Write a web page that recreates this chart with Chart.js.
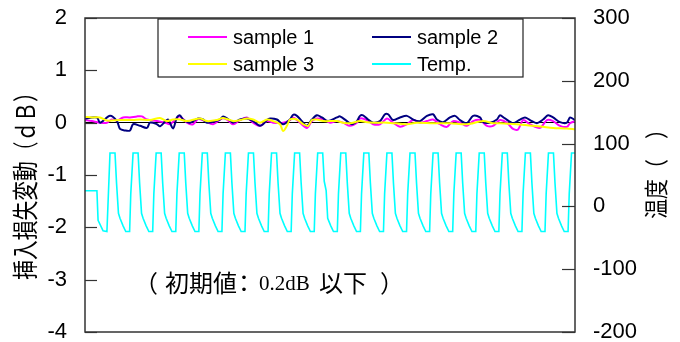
<!DOCTYPE html>
<html><head><meta charset="utf-8">
<script src="https://cdn.jsdelivr.net/npm/chart.js@4/dist/chart.umd.min.js"></script>
<style>html,body{margin:0;padding:0;background:#fff}#wrap{width:680px;height:342px}</style>
</head><body><div id="wrap"><canvas id="c" width="680" height="342"></canvas></div>
<script>
// time axis in minutes
const s1Time = [0,18,39,57,70,83,99,117,135,148,161,187,208,221,239,247,265,281,294,312,333,356,369,385,403,421,437,455,473,489,515,533,541,559,577,590,603,619,637,655,671,689,707,715,733,749,767,785,801,819,837,853,871,889,905,923,941,957,975,993,1009,1027,1045,1061,1079,1097,1113,1126,1139,1157,1183,1201,1217,1235,1253,1261,1274];
const s1Val  = [0.05,0.03,0,0,0.06,0.04,0.10,0.10,0.12,0.12,0.06,0.03,0,-0.03,0.09,0.12,0,-0.03,0.07,0.03,-0.03,0.08,0.06,-0.03,0.05,0.10,0,-0.06,0.03,0,0,0.05,0.10,0,-0.10,0.03,0.08,0.06,0,0.03,0,-0.06,0,0.08,0.05,-0.03,-0.03,0.08,0,-0.08,-0.03,0.05,0,0.03,0.06,-0.03,-0.08,0.03,0,-0.06,0.03,0.05,-0.06,-0.06,0.05,0,-0.12,-0.13,0.05,-0.03,-0.10,0.05,0.03,-0.06,-0.08,-0.01,0.03];

const s2Time = [0,31,39,65,83,91,104,117,125,143,161,169,187,195,208,216,229,239,247,255,273,294,307,317,351,359,372,385,403,421,437,455,463,473,481,499,515,533,541,551,564,577,590,603,616,632,655,663,681,694,707,715,723,736,749,767,780,788,801,819,837,853,871,889,905,915,931,949,962,975,993,1009,1027,1035,1053,1071,1079,1092,1113,1131,1144,1157,1175,1191,1204,1217,1235,1253,1261,1274];
const s2Val  = [0.08,0.10,0,0.13,0.03,-0.12,-0.15,-0.15,-0.03,-0.06,-0.10,0,-0.03,-0.07,0.02,0.06,-0.11,0.10,0.14,0.06,0,0.08,0.06,0,0.06,0.12,0.07,0,0.06,0.08,0.03,-0.06,-0.03,0.05,0.08,0.06,-0.03,0.06,0.15,0.13,0.03,-0.06,0.06,0.14,0.10,0.03,0.10,0.12,0.03,-0.03,0.03,0.13,0.14,0.06,0,0.03,0.16,0.16,0.05,0.10,0.13,0.06,0.03,0.13,0.16,0.06,0.01,0.10,0.13,0.05,-0.01,0.13,0.10,0.01,0,0.06,0.14,0.08,-0.01,0.06,0.10,0.05,-0.01,0.06,0.14,0.10,0.01,0,0.10,0.05];

const s3Time = [0,18,39,57,91,125,143,169,195,213,229,247,265,299,317,343,359,385,403,421,437,455,473,489,507,515,525,533,551,567,580,590,603,619,655,671,689,715,733,749,785,819,837,863,905,949,993,1035,1061,1079,1123,1165,1191,1217,1253,1274];
const s3Val  = [0.11,0.10,0.10,0.04,0.05,0.05,0.06,0.05,0.09,0.03,0.06,0.06,0.03,0.08,0.03,0.05,0.09,0.03,0.05,0.08,0.06,0,0.06,0.03,-0.03,-0.16,-0.06,0.06,0.06,-0.03,-0.06,0.05,0.06,0.03,0.03,0,-0.01,0.03,0.01,0,0,-0.02,-0.03,0,-0.01,-0.01,-0.03,0.03,-0.01,-0.01,-0.03,-0.06,-0.08,-0.10,-0.11,-0.13];

const tempTime = [0,31,34,47,57,
 65,78,82,87,91,99,106,116,119,
 125,138,142,147,151,159,166,176,179,
 185,198,202,207,211,219,226,236,239,
 245,258,262,267,271,279,286,296,299,
 305,318,322,327,331,339,346,356,359,
 365,378,382,387,391,399,406,416,419,
 425,438,442,447,451,459,466,476,479,
 485,498,502,507,511,519,526,536,539,
 545,558,562,567,571,579,586,596,599,
 605,618,622,627,631,639,646,656,659,
 665,678,682,687,691,699,706,716,719,
 725,738,742,747,751,759,766,776,779,
 785,798,802,807,811,819,826,836,839,
 845,858,862,867,871,879,886,896,899,
 905,918,922,927,931,939,946,956,959,
 965,978,982,987,991,999,1006,1016,1019,
 1025,1038,1042,1047,1051,1059,1066,1076,1079,
 1085,1098,1102,1107,1111,1119,1126,1136,1139,
 1145,1158,1162,1167,1171,1179,1186,1196,1199,
 1205,1218,1222,1227,1231,1239,1246,1256,1259,
 1265,1274];
const tempVal = [25,25,-22,-39,-40,
 85,85,37,-11,-19,-31,-40,-40,20,
 85,85,37,-11,-19,-31,-40,-40,20,
 85,85,37,-11,-19,-31,-40,-40,20,
 85,85,37,-11,-19,-31,-40,-40,20,
 85,85,37,-11,-19,-31,-40,-40,20,
 85,85,37,-11,-19,-31,-40,-40,20,
 85,85,37,-11,-19,-31,-40,-40,20,
 85,85,37,-11,-19,-31,-40,-40,20,
 85,85,37,-11,-19,-31,-40,-40,20,
 85,85,40,25,-19,-31,-40,-40,20,
 85,85,37,-11,-19,-31,-40,-40,20,
 85,85,37,-11,-19,-31,-40,-40,20,
 85,85,37,-11,-19,-31,-40,-40,20,
 85,85,37,-11,-19,-31,-40,-40,20,
 85,85,37,-11,-19,-31,-40,-40,20,
 85,85,37,-11,-19,-31,-40,-40,20,
 85,85,37,-11,-19,-31,-40,-40,20,
 85,85,37,-11,-19,-31,-40,-40,20,
 85,85,37,-11,-19,-31,-40,-40,20,
 85,85,37,-11,-19,-31,-40,-40,20,
 85,85];

const seriesLabels = ['sample 1','sample 2','sample 3','Temp.'];
const leftTitle = '挿入損失変動（ｄＢ）';
const rightTitle = '温度（　）';

const SANS = '"Liberation Sans", Arial, sans-serif';
const CJK = '"Noto Sans CJK JP", sans-serif';
const SERIF = '"Liberation Serif", "Times New Roman", serif';

const pts = (t, v) => t.map((x, i) => ({x: x, y: v[i]}));

// draw text so that its ink starts at 'left'
function inkAt(ctx, text, left, y) {
  const m = ctx.measureText(text);
  ctx.fillText(text, left + m.actualBoundingBoxLeft, y);
}
function vTitle(ctx, text, cx, cy, size, squeeze) {
  ctx.save();
  ctx.font = size + 'px ' + CJK;
  ctx.textAlign = 'center';
  ctx.textBaseline = 'middle';
  ctx.translate(cx, cy);
  ctx.rotate(-Math.PI / 2);
  ctx.scale(squeeze, 1);
  ctx.fillText(text, 0, 0);
  ctx.restore();
}

const decor = {
  id: 'decor',
  afterDraw(chart) {
    const {ctx, chartArea: a, scales} = chart;
    ctx.save();
    // frame
    ctx.strokeStyle = '#333';
    ctx.lineWidth = 1.5;
    ctx.strokeRect(a.left, a.top, a.right - a.left, a.bottom - a.top);
    // inward tick marks
    ctx.lineWidth = 1.2;
    scales.y.ticks.forEach(t => {
      const p = Math.round(scales.y.getPixelForValue(t.value)) + 0.5;
      ctx.beginPath(); ctx.moveTo(a.left, p); ctx.lineTo(a.left + 12, p); ctx.stroke();
    });
    scales.y1.ticks.forEach(t => {
      const p = Math.round(scales.y1.getPixelForValue(t.value)) + 0.5;
      ctx.beginPath(); ctx.moveTo(a.right, p); ctx.lineTo(a.right - 13, p); ctx.stroke();
    });
    // legend box
    const lx = a.left + 73, ly = a.top + 1, lw = 365, lh = 58;
    ctx.fillStyle = '#fff';
    ctx.fillRect(lx, ly, lw, lh);
    ctx.strokeStyle = '#222';
    ctx.lineWidth = 1.2;
    ctx.strokeRect(lx, ly, lw, lh);
    ctx.font = '20px ' + SANS;
    ctx.textBaseline = 'middle';
    ctx.textAlign = 'left';
    chart.data.datasets.forEach((ds, i) => {
      const col = i % 2, row = Math.floor(i / 2);
      const x0 = lx + 30 + col * 184;
      const y0 = ly + 18 + row * 27;
      ctx.strokeStyle = ds.borderColor;
      ctx.lineWidth = 2;
      ctx.beginPath(); ctx.moveTo(x0, y0); ctx.lineTo(x0 + 39, y0); ctx.stroke();
      ctx.fillStyle = '#000';
      ctx.fillText(ds.label, x0 + 45, y0 + 1);
    });
    // annotation
    const ay = a.top + 265;
    ctx.fillStyle = '#000';
    ctx.textBaseline = 'middle';
    ctx.textAlign = 'left';
    ctx.font = '24px ' + CJK;
    inkAt(ctx, '（', a.left + 65, ay);
    inkAt(ctx, '初期値', a.left + 80, ay);
    inkAt(ctx, '：', a.left + 157, ay);
    ctx.font = '21px ' + SERIF;
    inkAt(ctx, '0.2dB', a.left + 174, ay + 1);
    ctx.font = '24px ' + CJK;
    inkAt(ctx, '以下', a.left + 234, ay);
    inkAt(ctx, '）', a.left + 296, ay);
    // axis titles
    ctx.fillStyle = '#000';
    vTitle(ctx, leftTitle, 25.5, 181, 26, 0.76);
    vTitle(ctx, rightTitle, 656, 169, 24, 0.83);
    ctx.restore();
  }
};

new Chart(document.getElementById('c'), {
  type: 'line',
  data: {
    datasets: [
      {label: seriesLabels[0], data: pts(s1Time, s1Val), borderColor: '#FF00FF', borderWidth: 2, yAxisID: 'y', order: 2, tension: 0.3},
      {label: seriesLabels[1], data: pts(s2Time, s2Val), borderColor: '#000080', borderWidth: 2, yAxisID: 'y', order: 1, tension: 0.3},
      {label: seriesLabels[2], data: pts(s3Time, s3Val), borderColor: '#FFFF00', borderWidth: 2, yAxisID: 'y', order: 0, tension: 0.3},
      {label: seriesLabels[3], data: pts(tempTime, tempVal), borderColor: '#00FFFF', borderWidth: 1.6, yAxisID: 'y1', order: 3, tension: 0}
    ]
  },
  options: {
    responsive: false,
    animation: false,
    devicePixelRatio: 1,
    layout: {padding: {top: 18, bottom: 10, left: 0, right: 0}},
    elements: {point: {radius: 0}},
    plugins: {legend: {display: false}, tooltip: {enabled: false}},
    scales: {
      x: {type: 'linear', min: 0, max: 1274, display: false},
      y: {
        position: 'left', min: -4, max: 2,
        ticks: {stepSize: 1, color: '#000', padding: 18, font: {family: SANS, size: 22}},
        grid: {drawTicks: false, lineWidth: 1, color: c => (c.tick && c.tick.value === 0) ? '#000' : 'rgba(0,0,0,0)'},
        border: {display: false},
        afterFit: s => { s.width = 85; s.paddingTop = 0; s.paddingBottom = 0; }
      },
      y1: {
        position: 'right', min: -200, max: 300,
        ticks: {stepSize: 100, color: '#000', padding: 18, font: {family: SANS, size: 22}},
        grid: {display: false, drawTicks: false},
        border: {display: false},
        afterFit: s => { s.width = 105; s.paddingTop = 0; s.paddingBottom = 0; }
      }
    }
  },
  plugins: [decor]
});
</script>
</body></html>
